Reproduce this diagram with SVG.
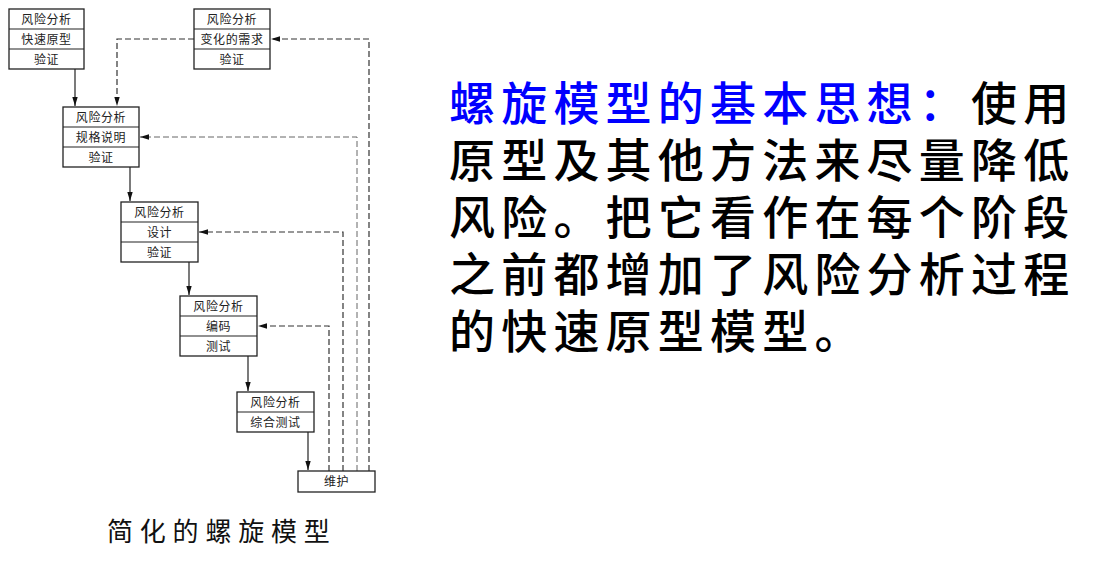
<svg xmlns="http://www.w3.org/2000/svg" width="1099" height="571" viewBox="0 0 1099 571">
<style>
.box{fill:#fff;stroke:#222;stroke-width:1.3}
.div{stroke:#222;stroke-width:1.2}
.t{font-family:"Noto Sans CJK SC","Noto Sans CJK TC",sans-serif;font-size:12px;fill:#222;text-anchor:middle;letter-spacing:0.6px}
.solid{fill:none;stroke:#222;stroke-width:1.2}
.dash{fill:none;stroke:#333;stroke-width:1.2;stroke-dasharray:6 3}
.dashl{fill:none;stroke:#666;stroke-width:1;stroke-dasharray:6 3}
.big{font-family:"Noto Sans CJK SC","Noto Sans CJK TC",sans-serif;font-size:46px;font-weight:500;letter-spacing:6.2px}
.cap{font-family:"Noto Sans CJK SC","Noto Sans CJK TC",serif;font-size:26px;fill:#111;letter-spacing:6.8px}
</style>
<defs>
<marker id="ah" viewBox="0 0 10 6" refX="10" refY="3" markerWidth="9" markerHeight="5.5" markerUnits="userSpaceOnUse" orient="auto">
<path d="M0,0 L10,3 L0,6 Z" fill="#111"/>
</marker>
</defs>
<rect width="1099" height="571" fill="#fff"/>

<g id="connectors">
<line class="solid" x1="75" y1="69" x2="75" y2="106" marker-end="url(#ah)"/>
<line class="solid" x1="130" y1="167" x2="130" y2="201" marker-end="url(#ah)"/>
<line class="solid" x1="189" y1="262" x2="189" y2="295" marker-end="url(#ah)"/>
<line class="solid" x1="248" y1="356" x2="248" y2="391" marker-end="url(#ah)"/>
<line class="solid" x1="308" y1="432" x2="308" y2="470" marker-end="url(#ah)"/>
<polyline class="dash" points="194,39 117,39 117,106" marker-end="url(#ah)"/>
<polyline class="dash" points="369,471 369,39 271,39" marker-end="url(#ah)"/>
<polyline class="dashl" points="357,471 357,137 140,137" marker-end="url(#ah)"/>
<polyline class="dash" points="343,471 343,232 199,232" marker-end="url(#ah)"/>
<polyline class="dash" points="329,471 329,326 258,326" marker-end="url(#ah)"/>
</g>

<g id="node-prototype">
<rect class="box" x="9" y="9" width="75" height="60"/>
<line class="div" x1="9" y1="29" x2="84" y2="29"/>
<line class="div" x1="9" y1="49" x2="84" y2="49"/>
<text class="t" x="46.5" y="24">风险分析</text>
<text class="t" x="46.5" y="44">快速原型</text>
<text class="t" x="46.5" y="64">验证</text>
</g>

<g id="node-change">
<rect class="box" x="194" y="9" width="76" height="60"/>
<line class="div" x1="194" y1="29" x2="270" y2="29"/>
<line class="div" x1="194" y1="49" x2="270" y2="49"/>
<text class="t" x="232" y="24">风险分析</text>
<text class="t" x="232" y="44">变化的需求</text>
<text class="t" x="232" y="64">验证</text>
</g>

<g id="node-spec">
<rect class="box" x="63" y="107" width="76" height="60"/>
<line class="div" x1="63" y1="127" x2="139" y2="127"/>
<line class="div" x1="63" y1="147" x2="139" y2="147"/>
<text class="t" x="101" y="122">风险分析</text>
<text class="t" x="101" y="142">规格说明</text>
<text class="t" x="101" y="162">验证</text>
</g>

<g id="node-design">
<rect class="box" x="121" y="202" width="77" height="60"/>
<line class="div" x1="121" y1="222" x2="198" y2="222"/>
<line class="div" x1="121" y1="242" x2="198" y2="242"/>
<text class="t" x="159.5" y="217">风险分析</text>
<text class="t" x="159.5" y="237">设计</text>
<text class="t" x="159.5" y="257">验证</text>
</g>

<g id="node-code">
<rect class="box" x="180" y="296" width="77" height="60"/>
<line class="div" x1="180" y1="316" x2="257" y2="316"/>
<line class="div" x1="180" y1="336" x2="257" y2="336"/>
<text class="t" x="218.5" y="311">风险分析</text>
<text class="t" x="218.5" y="331">编码</text>
<text class="t" x="218.5" y="351">测试</text>
</g>

<g id="node-integration">
<rect class="box" x="237" y="392" width="77" height="40"/>
<line class="div" x1="237" y1="412" x2="314" y2="412"/>
<text class="t" x="275.5" y="407">风险分析</text>
<text class="t" x="275.5" y="427">综合测试</text>
</g>

<g id="node-maintain">
<rect class="box" x="298" y="471" width="77" height="21"/>
<text class="t" x="336.5" y="486">维护</text>
</g>

<g id="caption">
<text class="cap" x="107" y="541">简化的螺旋模型</text>
</g>

<g id="description">
<text class="big" x="449" y="120"><tspan fill="#0000ff">螺旋模型的基本思想：</tspan><tspan fill="#000">使用</tspan></text>
<text class="big" x="449" y="177" fill="#000">原型及其他方法来尽量降低</text>
<text class="big" x="449" y="234" fill="#000">风险。把它看作在每个阶段</text>
<text class="big" x="449" y="291" fill="#000">之前都增加了风险分析过程</text>
<text class="big" x="449" y="348" fill="#000">的快速原型模型。</text>
</g>
</svg>
